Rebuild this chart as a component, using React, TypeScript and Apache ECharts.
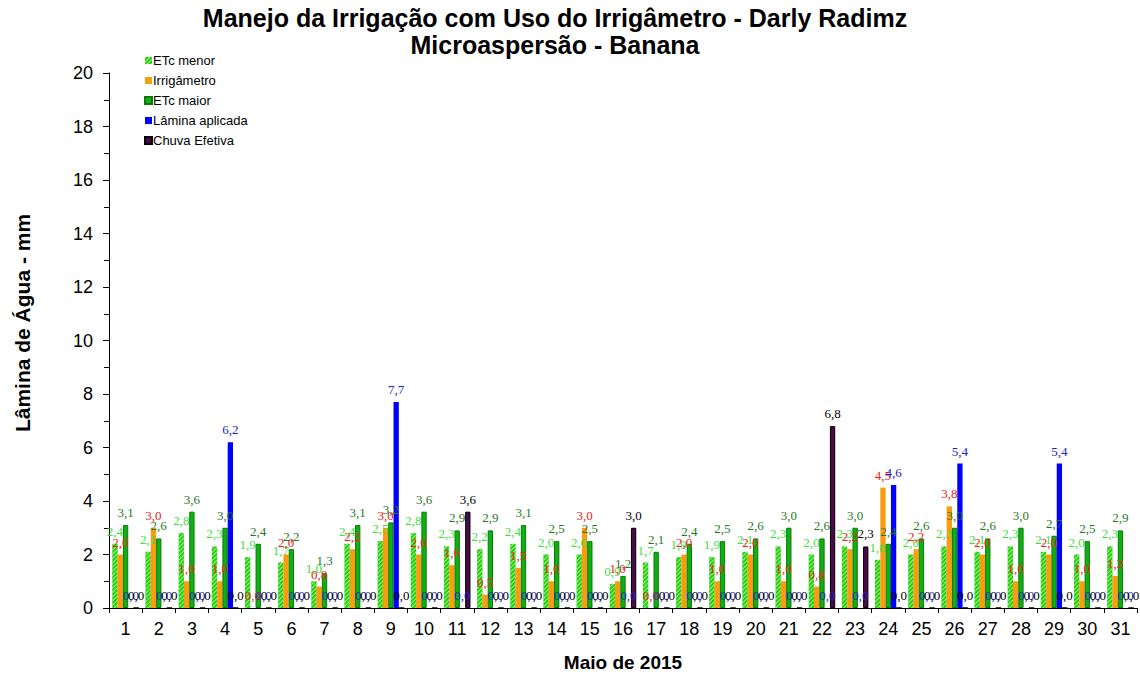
import React, { useEffect, useRef } from "react";
import * as echarts from "echarts";

const days = Array.from({ length: 31 }, (_, i) => String(i + 1));
const etcMenor = [2.4, 2.1, 2.8, 2.3, 1.9, 1.7, 1.0, 2.4, 2.5, 2.8, 2.3, 2.2, 2.4, 2.0, 2.0, 0.9, 1.7, 1.9, 1.9, 2.1, 2.3, 2.0, 2.3, 1.8, 2.0, 2.3, 2.1, 2.3, 2.1, 2.0, 2.3];
const irrigametro = [2.0, 3.0, 1.0, 1.0, 0, 2.0, 0.8, 2.2, 3.0, 2.0, 1.6, 0.5, 1.5, 1.0, 3.0, 1.0, 0, 2.0, 1.0, 2.0, 1.0, 0.8, 2.2, 4.5, 2.2, 3.8, 2.0, 1.0, 2.0, 1.0, 1.2];
const etcMaior = [3.1, 2.6, 3.6, 3.0, 2.4, 2.2, 1.3, 3.1, 3.2, 3.6, 2.9, 2.9, 3.1, 2.5, 2.5, 1.2, 2.1, 2.4, 2.5, 2.6, 3.0, 2.6, 3.0, 2.4, 2.6, 3.0, 2.6, 3.0, 2.7, 2.5, 2.9];
const laminaAplicada = [0, 0, 0, 6.2, 0, 0, 0, 0, 7.7, 0, 0, 0, 0, 0, 0, 0, 0, 0, 0, 0, 0, 0, 0, 4.6, 0, 5.4, 0, 0, 5.4, 0, 0];
const chuvaEfetiva = [0, 0, 0, 0, 0, 0, 0, 0, 0, 0, 3.6, 0, 0, 0, 0, 3.0, 0, 0, 0, 0, 0, 6.8, 2.3, 0, 0, 0, 0, 0, 0, 0, 0];

const fmt = (p: any) => Number(p.value).toFixed(1).replace(".", ",");

const labelCfg = (color: string) => ({
  show: true,
  position: "top",
  distance: 6,
  formatter: fmt,
  color,
  fontFamily: "Liberation Serif",
  fontSize: 13,
});

export default function App() {
  const ref = useRef<HTMLDivElement>(null);
  useEffect(() => {
    if (!ref.current) return;
    const chart = echarts.init(ref.current, undefined, { renderer: "svg" });
    chart.setOption({
      animation: false,
      backgroundColor: "#ffffff",
      textStyle: { fontFamily: "Liberation Sans" },
      graphic: [
        {
          type: "text",
          x: 555,
          y: 18,
          style: {
            text: "Manejo da Irrigação com Uso do Irrigâmetro - Darly Radimz",
            font: "bold 25px 'Liberation Sans'",
            fill: "#000",
            textAlign: "center",
            textVerticalAlign: "middle",
          },
        },
        {
          type: "text",
          x: 555,
          y: 45,
          style: {
            text: "Microaspersão - Banana",
            font: "bold 25px 'Liberation Sans'",
            fill: "#000",
            textAlign: "center",
            textVerticalAlign: "middle",
          },
        },
        {
          type: "text",
          x: 22,
          y: 323,
          rotation: Math.PI / 2,
          style: {
            text: "Lâmina de Água - mm",
            font: "bold 21px 'Liberation Sans'",
            fill: "#000",
            textAlign: "center",
            textVerticalAlign: "middle",
          },
        },
      ],
      legend: {
        orient: "vertical",
        left: 139,
        top: 49,
        itemWidth: 7,
        itemHeight: 7,
        itemGap: 7,
        icon: "rect",
        textStyle: { fontFamily: "Liberation Sans", fontSize: 13, color: "#000", padding: [0, 0, 0, -4] },
        data: ["ETc menor", "Irrigâmetro", "ETc maior", "Lâmina aplicada", "Chuva Efetiva"],
      },
      grid: { left: 109, right: 3, top: 73, bottom: 68 },
      xAxis: {
        type: "category",
        data: days,
        name: "Maio de 2015",
        nameLocation: "middle",
        nameGap: 45,
        nameTextStyle: { fontFamily: "Liberation Sans", fontWeight: "bold", fontSize: 19, color: "#000", verticalAlign: "top" },
        axisLine: { lineStyle: { color: "#000", width: 1 } },
        axisTick: { show: true, alignWithLabel: false, length: 5, lineStyle: { color: "#000" } },
        axisLabel: { fontFamily: "Liberation Sans", fontSize: 18, color: "#000", margin: 12, interval: 0 },
      },
      yAxis: {
        type: "value",
        min: 0,
        max: 20,
        interval: 2,
        splitLine: { show: false },
        axisLine: { show: true, lineStyle: { color: "#000", width: 1 } },
        axisTick: { show: true, length: 6, lineStyle: { color: "#000" } },
        minorTick: { show: true, splitNumber: 2, length: 5, lineStyle: { color: "#000" } },
        axisLabel: { fontFamily: "Liberation Sans", fontSize: 18, color: "#000", margin: 16 },
      },
      series: [
        {
          name: "ETc menor",
          type: "bar",
          data: etcMenor,
          barGap: "0%",
          barCategoryGap: "20%",
          itemStyle: {
            color: "#1fcc1f",
            decal: {
              symbol: "rect",
              color: "rgba(190,255,110,0.85)",
              dashArrayX: [1, 0],
              dashArrayY: [1, 2],
              rotation: -Math.PI / 4,
            },
          },
          label: labelCfg("#3fe03f"),
        },
        {
          name: "Irrigâmetro",
          type: "bar",
          data: irrigametro,
          itemStyle: { color: "#fb9b10" },
          label: labelCfg("#ee2020"),
        },
        {
          name: "ETc maior",
          type: "bar",
          data: etcMaior,
          itemStyle: { color: "#10b010", borderColor: "#087a08", borderWidth: 1 },
          label: labelCfg("#1f7a1f"),
        },
        {
          name: "Lâmina aplicada",
          type: "bar",
          data: laminaAplicada,
          itemStyle: { color: "#0000ff" },
          label: labelCfg("#2222cc"),
        },
        {
          name: "Chuva Efetiva",
          type: "bar",
          data: chuvaEfetiva,
          itemStyle: { color: "#4a0a4a", borderColor: "#000", borderWidth: 1 },
          label: labelCfg("#000000"),
        },
      ],
    });
    return () => chart.dispose();
  }, []);
  return <div ref={ref} style={{ width: 1140, height: 677, position: "absolute", left: 0, top: 0 }} />;
}
